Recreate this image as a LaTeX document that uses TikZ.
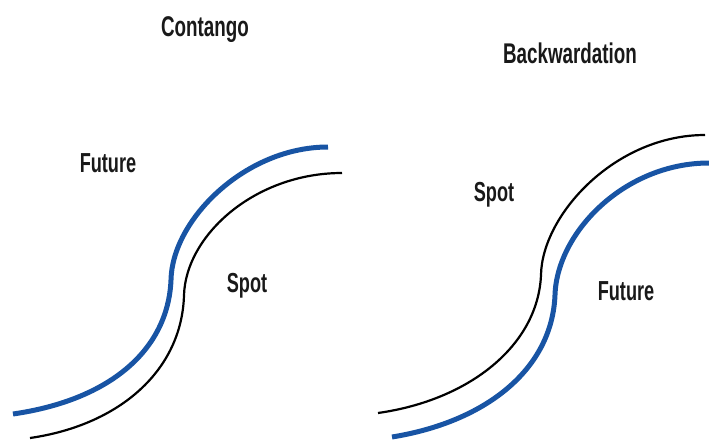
\documentclass[tikz,border=0pt]{standalone}
\usepackage{fontspec}
\usepackage{tikz}
\newfontfamily\lblfont[FakeStretch=0.66]{Liberation Sans Bold}
\definecolor{futblue}{RGB}{24,84,164}

\begin{document}
\begin{tikzpicture}[x=1pt,y=-1pt,
  title/.style={font=\lblfont\fontsize{28.5}{30}\selectfont,anchor=base,inner sep=0pt,text=black!90},
  lbl/.style={font=\lblfont\fontsize{27.5}{29}\selectfont,anchor=base,inner sep=0pt,text=black!90},
  future/.style={draw=futblue,line width=5pt},
  spot/.style={draw=black,line width=2.2pt}]
  \useasboundingbox (0,0) rectangle (709,439);

  \node[title] (contango) at (205,36) {Contango};
  \node[title] (backward) at (570,63) {Backwardation};

  \node[lbl] (futL) at (108,172) {Future};
  \node[lbl] (spotL) at (247,292) {Spot};
  \node[lbl] (spotR) at (494,201) {Spot};
  \node[lbl] (futR) at (626,300) {Future};

  \coordinate (fL0) at (13,414);
  \coordinate (fL1) at (171,280);
  \coordinate (fL2) at (328,147);
  \coordinate (sL0) at (30,438);
  \coordinate (sL1) at (184,295);
  \coordinate (sL2) at (342,173);

  \coordinate (sR0) at (378,413);
  \coordinate (sR1) at (541,275);
  \coordinate (sR2) at (705,135);
  \coordinate (fR0) at (392,437);
  \coordinate (fR1) at (555,295);
  \coordinate (fR2) at (709,163);

  \draw[future] (fL0) .. controls (110,400) and (168,350) .. (fL1)
                .. controls (172,220) and (245,147) .. (fL2);
  \draw[spot] (sL0) .. controls (120,425) and (182,370) .. (sL1)
              .. controls (186,235) and (255,173) .. (sL2);

  \draw[spot] (sR0) .. controls (470,400) and (538,345) .. (sR1)
              .. controls (542,215) and (615,135) .. (sR2);
  \draw[future] (fR0) .. controls (485,422) and (552,370) .. (fR1)
                .. controls (557,232) and (625,163) .. (fR2);
\end{tikzpicture}
\end{document}
